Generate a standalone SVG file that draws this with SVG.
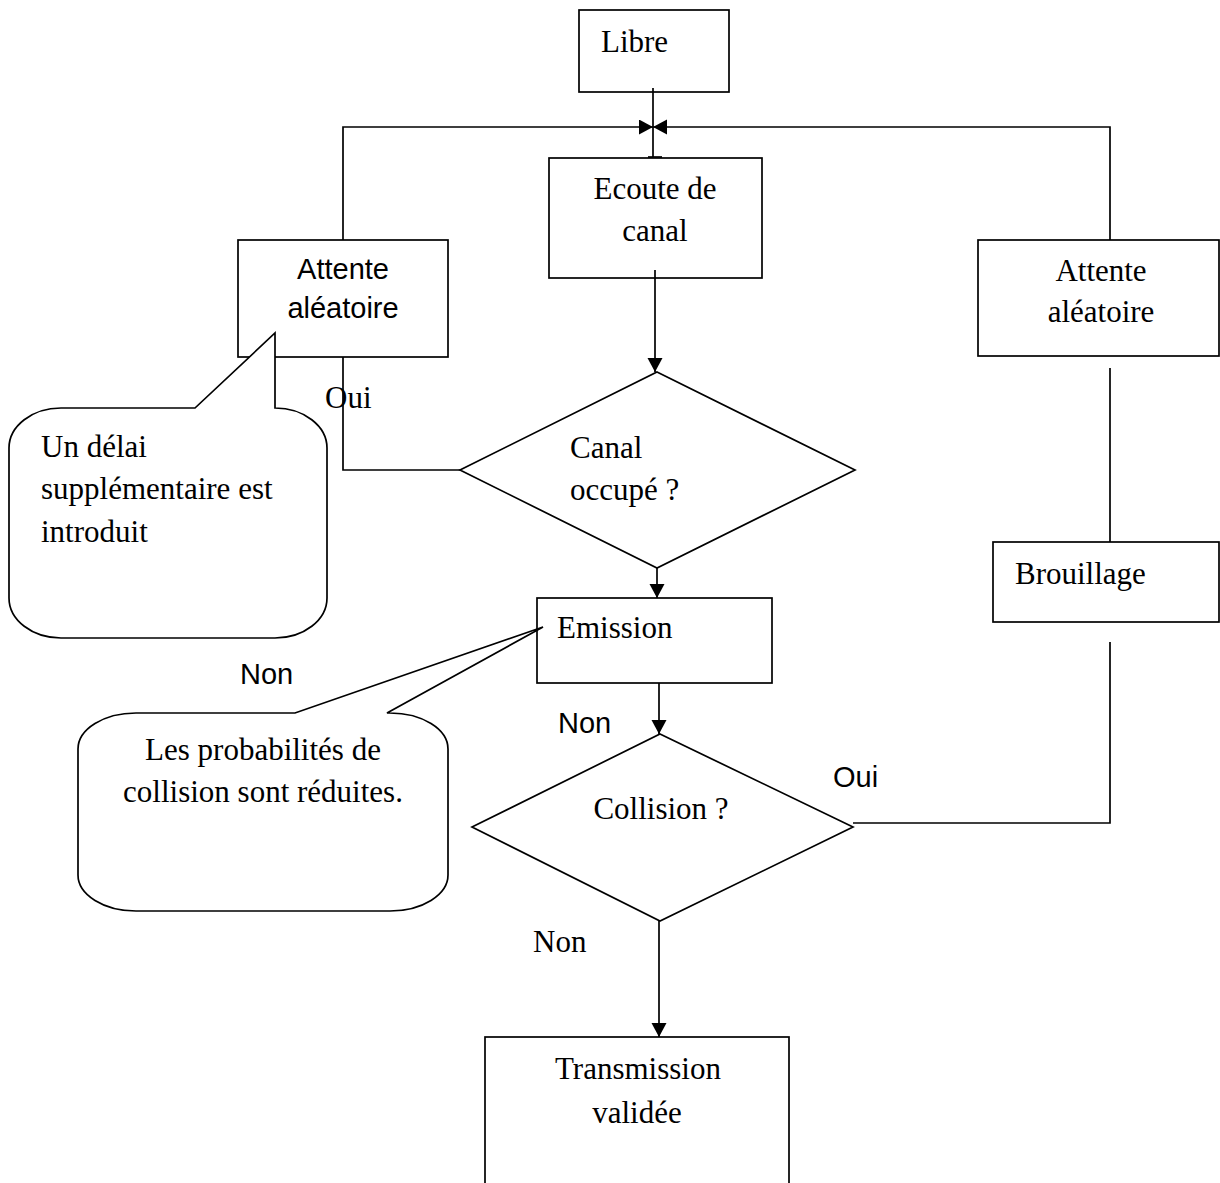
<svg xmlns="http://www.w3.org/2000/svg" width="1220" height="1183" viewBox="0 0 1220 1183">
  <style>
    .box { fill: #fff; stroke: #000; stroke-width: 1.7; }
    .ln { fill: none; stroke: #000; stroke-width: 1.7; }
    .bubble { fill: #fff; stroke: #000; stroke-width: 1.7; stroke-linejoin: miter; }
    .t { font-family: "Liberation Serif", "Times New Roman", serif; font-size: 31px; fill: #000; }
    .a { font-family: "Liberation Sans", Arial, sans-serif; font-size: 29px; fill: #000; }
    .c { text-anchor: middle; }
  </style>
  <defs>
    <marker id="arr" markerUnits="userSpaceOnUse" markerWidth="15" markerHeight="16" refX="14" refY="7.5" orient="auto">
      <path d="M0,0 L14,7.5 L0,15 z" fill="#000"/>
    </marker>
  </defs>
  <rect width="1220" height="1183" fill="#fff"/>

  <!-- process steps -->
  <g id="libre">
    <rect class="box" x="579" y="10" width="150" height="82"/>
    <text class="t" x="601" y="52">Libre</text>
  </g>
  <g id="ecoute">
    <rect class="box" x="549" y="158" width="213" height="120"/>
    <text class="t c" x="655" y="199">Ecoute de</text>
    <text class="t c" x="655" y="241">canal</text>
  </g>
  <g id="attente-gauche">
    <rect class="box" x="238" y="240" width="210" height="117"/>
    <text class="a c" x="343" y="279">Attente</text>
    <text class="a c" x="343" y="318">aléatoire</text>
  </g>
  <g id="attente-droite">
    <rect class="box" x="978" y="240" width="241" height="116"/>
    <text class="t c" x="1101" y="281">Attente</text>
    <text class="t c" x="1101" y="322">aléatoire</text>
  </g>
  <g id="canal-occupe">
    <polygon class="box" points="657,372 855,470 657,568 460,470"/>
    <text class="t" x="570" y="458">Canal</text>
    <text class="t" x="570" y="500">occupé ?</text>
  </g>
  <g id="emission">
    <rect class="box" x="537" y="598" width="235" height="85"/>
    <text class="t" x="557" y="638">Emission</text>
  </g>
  <g id="brouillage">
    <rect class="box" x="993" y="542" width="226" height="80"/>
    <text class="t" x="1015" y="584">Brouillage</text>
  </g>
  <g id="collision">
    <polygon class="box" points="660,734 853,827 660,921 472,827"/>
    <text class="t c" x="661" y="819">Collision ?</text>
  </g>
  <g id="transmission">
    <rect class="box" x="485" y="1037" width="304" height="160"/>
    <text class="t c" x="638" y="1079">Transmission</text>
    <text class="t c" x="637" y="1123">validée</text>
  </g>

  <!-- connectors -->
  <g id="connectors">
    <path class="ln" d="M653,88 V157"/>
    <path class="ln" d="M648,157 H662"/>
    <path class="ln" d="M343,240 V127 H653" marker-end="url(#arr)"/>
    <path class="ln" d="M1110,240 V127 H653" marker-end="url(#arr)"/>
    <path class="ln" d="M655,270 V372" marker-end="url(#arr)"/>
    <path class="ln" d="M460,470 H343 V357"/>
    <path class="ln" d="M657,568 V598" marker-end="url(#arr)"/>
    <path class="ln" d="M659,683 V734" marker-end="url(#arr)"/>
    <path class="ln" d="M853,823 H1110 V642"/>
    <path class="ln" d="M1110,542 V368"/>
    <path class="ln" d="M659,921 V1037" marker-end="url(#arr)"/>
  </g>

  <!-- branch labels -->
  <g id="labels">
    <text class="t" x="325" y="408">Oui</text>
    <text class="a" x="240" y="684">Non</text>
    <text class="a" x="558" y="733">Non</text>
    <text class="a" x="833" y="787">Oui</text>
    <text class="t" x="533" y="952">Non</text>
  </g>

  <!-- callout bubbles -->
  <g id="note-delai">
    <path class="bubble" d="M61,408 H195 L275,333 L275,408 A52,40 0 0 1 327,448 V598 A52,40 0 0 1 275,638 H61 A52,40 0 0 1 9,598 V448 A52,40 0 0 1 61,408 Z"/>
    <text class="t" x="41" y="457">Un délai</text>
    <text class="t" x="41" y="499">supplémentaire est</text>
    <text class="t" x="41" y="542">introduit</text>
  </g>
  <g id="note-collision">
    <path class="bubble" d="M136,713 H295 L543,627 L387,713 H390 A58,36 0 0 1 448,749 V875 A58,36 0 0 1 390,911 H136 A58,36 0 0 1 78,875 V749 A58,36 0 0 1 136,713 Z"/>
    <text class="t c" x="263" y="760">Les probabilités de</text>
    <text class="t c" x="263" y="802">collision sont réduites.</text>
  </g>
</svg>
